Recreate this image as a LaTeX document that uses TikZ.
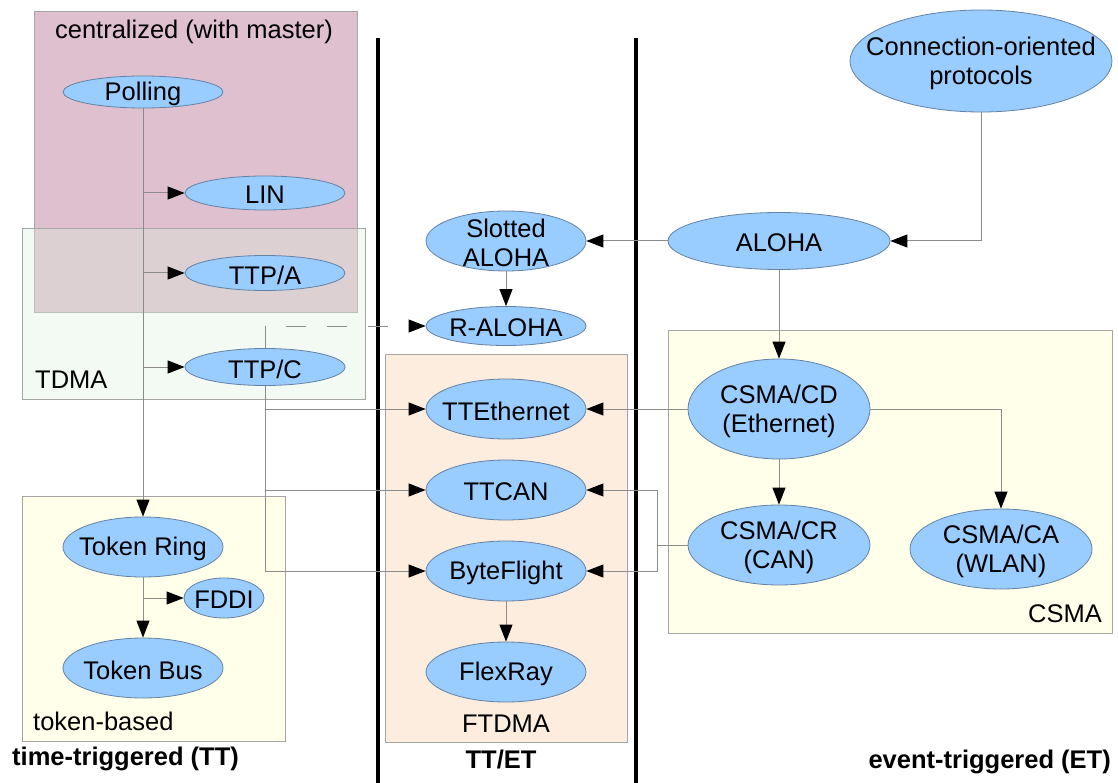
\documentclass[tikz,border=0pt]{standalone}
\usepackage{fontspec}
\setmainfont{Liberation Sans}
\usetikzlibrary{shapes,arrows.meta}
\definecolor{protofill}{RGB}{153,204,255}
\definecolor{protoedge}{RGB}{100,130,165}
\definecolor{linkgray}{RGB}{140,140,140}
\definecolor{boxedge}{RGB}{165,165,165}
\definecolor{masterfill}{RGB}{223,192,207}
\definecolor{tdmafill}{RGB}{217,240,220}
\definecolor{tokenfill}{RGB}{255,255,234}
\definecolor{ftdmafill}{RGB}{253,237,222}
\newcommand{\diagfont}{\fontsize{25.5}{29}\selectfont}
\tikzstyle{proto} = [ellipse, draw=protoedge, fill=protofill, line width=0.8pt,
    inner sep=0pt, minimum width=160pt, minimum height=60pt]
\tikzstyle{line} = [draw=linkgray, line width=1pt,
    -{Triangle[length=17pt,width=13pt,color=black]}]
\tikzstyle{link} = [draw=linkgray, line width=1pt]
\tikzstyle{region} = [draw=boxedge, line width=1pt]
\tikzstyle{regiontxt} = [inner sep=0pt]
\tikzstyle{sidetxt} = [inner sep=0pt, font=\diagfont\bfseries]
\tikzset{every label/.style={align=center, yshift=-2pt}}

\begin{document}
\begin{tikzpicture}[x=1pt, y=-1pt, node distance=81pt, font=\diagfont]
	\useasboundingbox (0,0) rectangle (1118,783);

		\path [region, fill=masterfill] (34,12) rectangle (357,313);
		\path [region, fill=tdmafill, fill opacity=0.35] (22,229) rectangle (365,399);
		\path [region, fill=tokenfill] (22,496) rectangle (285,741);
		\path [region, fill=ftdmafill] (385,354) rectangle (627,742);
		\path [region, fill=tokenfill] (668,330) rectangle (1112,633);

		\node [regiontxt, anchor=base] (mastertxt) at (194,39) {centralized (with master)};
		\node [regiontxt, anchor=base west] (tdmatxt) at (35,388) {TDMA};
		\node [regiontxt, anchor=base west] (tokentxt) at (33,730) {token-based};
		\node [regiontxt, anchor=base] (ftdmatxt) at (506,732) {FTDMA};
		\node [regiontxt, anchor=base east] (csmatxt) at (1102,622) {CSMA};
		\node [sidetxt, anchor=base west] (tttxt) at (12,765) {time-triggered (TT)};
		\node [sidetxt, anchor=base] (ttettxt) at (501,768) {TT/ET};
		\node [sidetxt, anchor=base east] (ettxt) at (1111,768) {event-triggered (ET)};

		\draw [line width=4pt] (378,38) -- (378,783);
		\draw [line width=4pt] (636,38) -- (636,783);

		\node [proto, minimum height=32pt, label={center:Polling}] (polling) at (143,92) {};
		\node [proto, minimum height=34pt, label={center:LIN}] (lin) at (265,193) {};
		\node [proto, minimum height=35pt, label={center:TTP/A}, below of=lin, node distance=80pt] (ttpa) {};
		\node [proto, minimum height=37pt, label={center:TTP/C}, below of=ttpa, node distance=94pt] (ttpc) {};
		\node [proto, label={center:Token Ring}] (tokenring) at (143,547) {};
		\node [proto, minimum width=80pt, minimum height=40pt, label={center:FDDI}] (fddi) at (224,598) {};
		\node [proto, label={center:Token Bus}, below of=tokenring, node distance=121pt] (tokenbus) {};

		\node [proto, label={center:Slotted\\ALOHA}] (slotted) at (506,241) {};
		\node [proto, minimum height=39pt, label={center:R-ALOHA}] (raloha) at (506,326) {};
		\node [proto, label={center:TTEthernet}] (tteth) at (506,409) {};
		\node [proto, label={center:TTCAN}, below of=tteth] (ttcan) {};
		\node [proto, label={center:ByteFlight}, below of=ttcan] (byteflight) {};
		\node [proto, label={center:FlexRay}, below of=byteflight, node distance=101pt] (flexray) {};

		\node [proto, minimum width=262pt, minimum height=102pt, label={center:Connection-oriented\\protocols}] (connoriented) at (981,61) {};
		\node [proto, minimum width=222pt, minimum height=57pt, label={center:ALOHA}] (aloha) at (779,241) {};
		\node [proto, minimum width=182pt, minimum height=100pt, label={center:CSMA/CD\\(Ethernet)}] (csmacd) at (779,409) {};
		\node [proto, minimum width=182pt, minimum height=80pt, label={center:CSMA/CR\\(CAN)}] (csmacr) at (779,545) {};
		\node [proto, minimum width=182pt, minimum height=80pt, label={center:CSMA/CA\\(WLAN)}] (csmaca) at (1001,549) {};
		\coordinate (crsplit) at (657,545);

		\path [line] (polling) -- (tokenring);
		\path [line] (polling |- lin) -- (lin);
		\path [line] (polling |- ttpa) -- (ttpa);
		\path [line] (polling |- ttpc) -- (ttpc);
		\path [link] (ttpc) -- (ttpc |- raloha);
		\path [line, dash pattern=on 20pt off 21pt, dash phase=20pt] (ttpc |- raloha) -- (raloha);
		\path [link] (ttpc) -- (ttpc |- byteflight);
		\path [line] (ttpc |- tteth) -- (tteth);
		\path [line] (ttpc |- ttcan) -- (ttcan);
		\path [line] (ttpc |- byteflight) -- (byteflight);
		\path [line] (tokenring) -- (tokenbus);
		\path [line] (tokenring |- fddi) -- (fddi);

		\path [line] (connoriented) |- (aloha);
		\path [line] (aloha) -- (slotted);
		\path [line] (slotted) -- (raloha);
		\path [line] (aloha) -- (csmacd);
		\path [line] (csmacd) -- (tteth);
		\path [line] (csmacd) -- (csmacr);
		\path [line] (csmacd) -| (csmaca);
		\path [link] (csmacr) -- (crsplit);
		\path [line] (crsplit) |- (ttcan);
		\path [line] (crsplit) |- (byteflight);
		\path [line] (byteflight) -- (flexray);
	\end{tikzpicture}
\end{document}
